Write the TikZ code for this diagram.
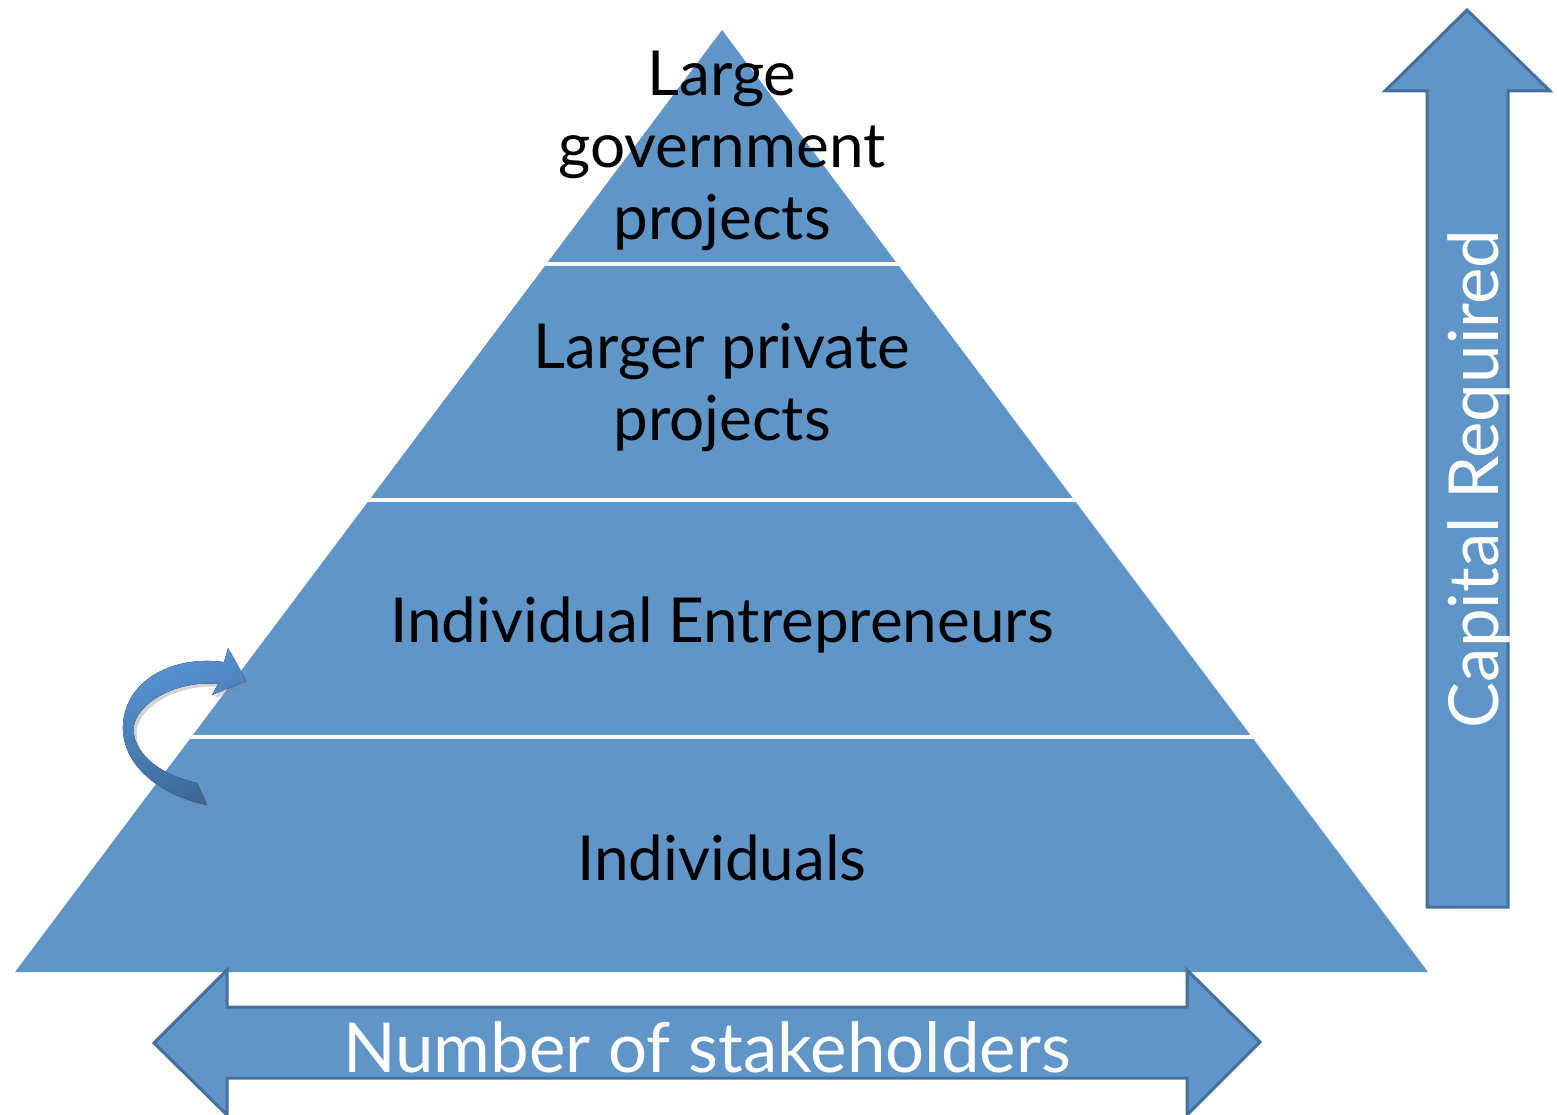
\documentclass[tikz,border=0pt]{standalone}
\usepackage{fontspec}
\setmainfont{Lato}
\usetikzlibrary{shadows}
\definecolor{pyrblue}{RGB}{96,149,200}
\definecolor{pyredge}{RGB}{68,112,158}
\definecolor{curvelight}{RGB}{88,148,212}
\definecolor{curvedark}{RGB}{60,104,152}

\begin{document}
\begin{tikzpicture}[x=1pt, y=-1pt,
  every node/.style={font=\fontsize{62}{72}\selectfont, align=center, inner sep=0pt},
  blockarrow/.style={fill=pyrblue, draw=pyredge, line width=3pt, line join=miter},
  whitelabel/.style={text=white, font=\fontsize{69}{80}\selectfont}]
  \useasboundingbox (0,0) rectangle (1557,1115);
  % pyramid with white gaps between the tiers
  \fill[pyrblue] (722,30) -- (1428,972) -- (15,972) -- cycle;
  \begin{scope}
    \clip (722,30) -- (1428,972) -- (15,972) -- cycle;
    \draw[white, line width=4pt] (0,264) -- (1557,264);
    \draw[white, line width=4pt] (0,500) -- (1557,500);
    \draw[white, line width=4pt] (0,737) -- (1557,737);
  \end{scope}
  % base anchor sits on the last line
  \node[anchor=base] (govt) at (722,240) {Large\\government\\projects};
  \node[anchor=base] (private) at (722,440) {Larger private\\projects};
  \node[anchor=base] (entre) at (722,642) {Individual Entrepreneurs};
  \node[anchor=base] (indiv) at (722,880) {Individuals};
  % capital arrow
  \draw[blockarrow] (1427,907) -- (1427,91) -- (1385,91) -- (1467,10)
    -- (1550,91) -- (1508,91) -- (1508,907) -- cycle;
  \node[whitelabel, anchor=base, rotate=90] (capital) at (1498,479) {Capital Required};
  % stakeholder arrow
  \draw[blockarrow] (154,1043) -- (227,970) -- (227,1007) -- (1187,1007)
    -- (1187,970) -- (1260,1042) -- (1187,1115) -- (1187,1078)
    -- (227,1078) -- (227,1115) -- cycle;
  \node[whitelabel, anchor=base] (stake) at (707,1072) {Number of stakeholders};
  % curved arrow, bottom tier up to the next one
  \fill[top color=curvelight, bottom color=curvedark, shading angle=20,
        drop shadow={opacity=0.35, shadow xshift=3pt, shadow yshift=-3pt}]
    (207,805) .. controls (160,795) and (121,765) .. (123,725)
    .. controls (125,682) and (170,655) .. (224,662)
    -- (228,648) -- (246,681) -- (212,695) -- (218,684)
    .. controls (180,680) and (140,700) .. (134,725)
    .. controls (130,752) and (160,775) .. (197,783) -- cycle;
\end{tikzpicture}
\end{document}
